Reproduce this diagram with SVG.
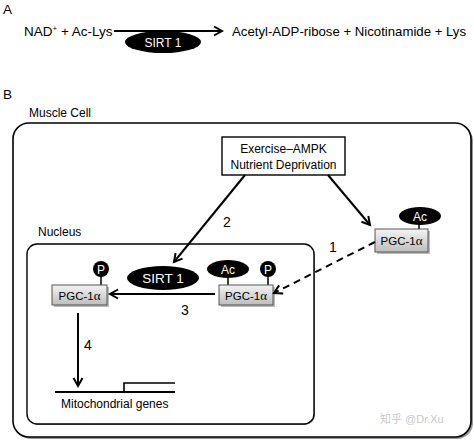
<svg xmlns="http://www.w3.org/2000/svg" width="474" height="440" viewBox="0 0 474 440">
<defs>
<style>
text{font-family:"Liberation Sans",Arial,sans-serif;fill:#000}
.t13{font-size:13.5px}
.t12{font-size:12px}
.pt{font-size:11.5px}
.lbl{font-size:12px}
.num{font-size:14px}
.wt{fill:#fff}
.line{stroke:#000;stroke-width:2;fill:none}
.dash{stroke:#000;stroke-width:2;fill:none;stroke-dasharray:7,5}
.pgc{fill:url(#g);stroke:#555;stroke-width:1}
.sh{fill:#bbb}
.a{font-family:"Liberation Serif",serif}
</style>
<linearGradient id="g" x1="0" y1="0" x2="0" y2="1">
<stop offset="0" stop-color="#f4f4f4"/>
<stop offset="1" stop-color="#bdbdbd"/>
</linearGradient>
<marker id="ah" markerWidth="12" markerHeight="12" refX="9" refY="6" orient="auto" markerUnits="userSpaceOnUse">
<path d="M1,1.5 L9,6 L1,10.5" fill="none" stroke="#000" stroke-width="2"/>
</marker>
</defs>

<!-- Panel A -->
<text x="3" y="14" class="t13">A</text>
<text x="24" y="36" class="t13">NAD<tspan font-size="8" dy="-5">+</tspan><tspan dy="5"> + Ac-Lys</tspan></text>
<line x1="114" y1="31" x2="222" y2="31" class="line" marker-end="url(#ah)"/>
<g id="sirt1a">
<ellipse cx="163" cy="42" rx="38" ry="11" fill="#000"/>
<text x="163" y="46.5" class="t12 wt" text-anchor="middle">SIRT 1</text>
</g>
<text x="232" y="36" font-size="13.2">Acetyl-ADP-ribose + Nicotinamide + Lys</text>

<!-- Panel B -->
<text x="3" y="99" class="t13">B</text>
<text x="29" y="117" class="t12">Muscle Cell</text>
<g id="cell">
<rect x="15" y="125" width="458" height="314" rx="16" fill="#999"/>
<rect x="13" y="123" width="458" height="314" rx="16" fill="#fff" stroke="#000" stroke-width="1.6"/>
</g>
<text x="38" y="236" class="t12">Nucleus</text>
<g id="nucleus">
<rect x="28" y="245" width="287" height="180" rx="10" fill="#888"/>
<rect x="27" y="244" width="287" height="180" rx="10" fill="#fff" stroke="#000" stroke-width="1.4"/>
</g>

<g id="exercise">
<rect x="222" y="137" width="123" height="38" fill="#fff" stroke="#000" stroke-width="1.4"/>
<text x="283.5" y="153" class="t12" text-anchor="middle">Exercise–AMPK</text>
<text x="283.5" y="169" class="t12" text-anchor="middle">Nutrient Deprivation</text>
</g>

<g id="pgc-cyto">
<line x1="419" y1="224" x2="419" y2="229" stroke="#000" stroke-width="1.5"/>
<ellipse cx="420" cy="216" rx="21" ry="9" fill="#000"/>
<text x="420" y="220.5" class="lbl wt" text-anchor="middle">Ac</text>
<rect x="377" y="231" width="53" height="23" class="sh"/>
<rect x="375" y="229" width="53" height="23" class="pgc"/>
<text x="401.5" y="245" class="pt" text-anchor="middle">PGC-1<tspan class="a" font-size="13">α</tspan></text>
</g>

<g id="pgc-left">
<line x1="101" y1="276" x2="101" y2="285" stroke="#000" stroke-width="1.5"/>
<circle cx="101" cy="269" r="8" fill="#000"/>
<text x="101" y="273.5" class="lbl wt" text-anchor="middle">P</text>
<rect x="54" y="287" width="55" height="20" class="sh"/>
<rect x="52" y="285" width="55" height="20" class="pgc"/>
<text x="79.5" y="299.5" class="pt" text-anchor="middle">PGC-1<tspan class="a" font-size="13">α</tspan></text>
</g>

<g id="sirt1b">
<ellipse cx="163" cy="278" rx="36" ry="12" fill="#000"/>
<text x="163" y="283" class="t13 wt" text-anchor="middle">SIRT 1</text>
</g>

<g id="pgc-mid">
<line x1="228" y1="277" x2="228" y2="285" stroke="#000" stroke-width="1.5"/>
<line x1="268" y1="276" x2="268" y2="285" stroke="#000" stroke-width="1.5"/>
<ellipse cx="228" cy="269" rx="21" ry="9" fill="#000"/>
<text x="228" y="273.5" class="lbl wt" text-anchor="middle">Ac</text>
<circle cx="268" cy="269" r="8" fill="#000"/>
<text x="268" y="273.5" class="lbl wt" text-anchor="middle">P</text>
<rect x="221" y="287" width="54" height="20" class="sh"/>
<rect x="219" y="285" width="54" height="20" class="pgc"/>
<text x="246" y="299.5" class="pt" text-anchor="middle">PGC-1<tspan class="a" font-size="13">α</tspan></text>
</g>

<g id="genes">
<line x1="55" y1="392" x2="175" y2="392" stroke="#000" stroke-width="2"/>
<polyline points="124,392 124,383 175,383" fill="none" stroke="#000" stroke-width="1.6"/>
<text x="61" y="408" class="t12">Mitochondrial genes</text>
</g>

<g id="connectors">
<line x1="328" y1="175" x2="370" y2="225" class="line" marker-end="url(#ah)"/>
<line x1="245" y1="175" x2="174" y2="262" class="line" marker-end="url(#ah)"/>
<line x1="375" y1="242" x2="274" y2="293" class="dash" marker-end="url(#ah)"/>
<line x1="215" y1="294" x2="110" y2="294" class="line" marker-end="url(#ah)"/>
<line x1="78" y1="313" x2="78" y2="386" class="line" marker-end="url(#ah)"/>
</g>
<text x="223" y="227" class="num">2</text>
<text x="329" y="252" class="num">1</text>
<text x="181" y="315" class="num">3</text>
<text x="84" y="350" class="num">4</text>

<text x="380" y="423" font-size="11" style="font-family:'Liberation Sans','Noto Sans CJK SC',sans-serif;fill:#c8c8c8">知乎 @Dr.Xu</text>
</svg>
